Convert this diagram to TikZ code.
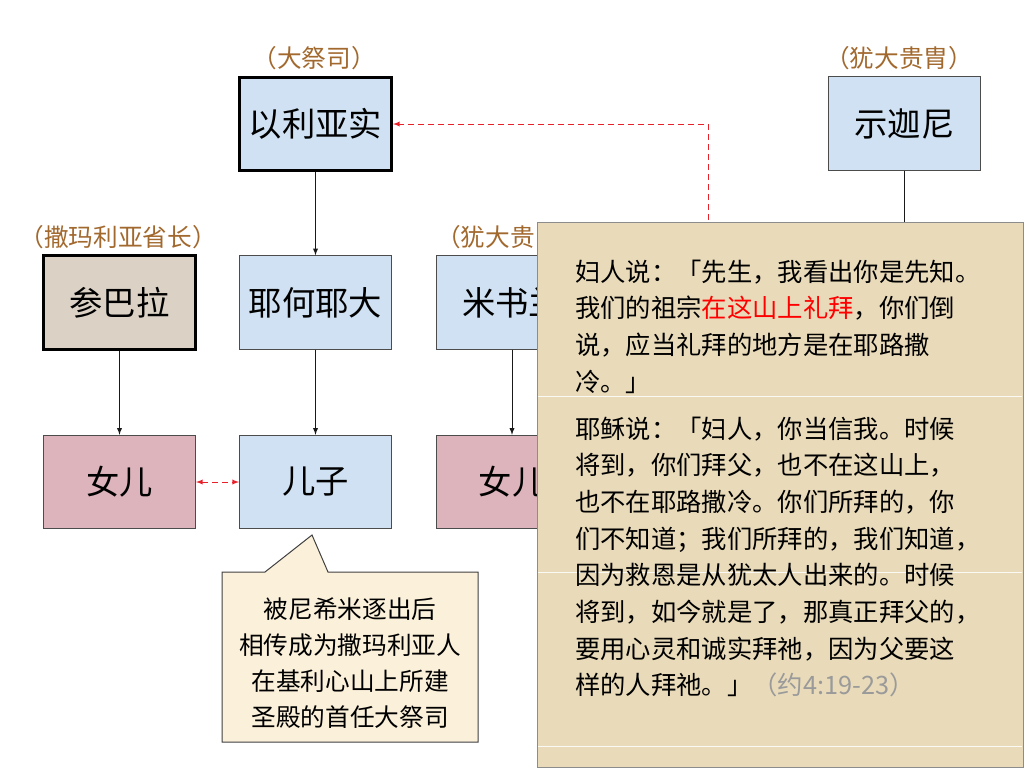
\documentclass[tikz,border=0pt]{standalone}
\usepackage{fontspec}
\setmainfont{Noto Sans CJK SC}
\usetikzlibrary{arrows}
\usepackage{xcolor}
\definecolor{boxblue}{HTML}{CFE1F2}
\definecolor{boxpink}{HTML}{DDB4BC}
\definecolor{boxsand}{HTML}{DBD2C5}
\definecolor{parch}{HTML}{E9DBBA}
\definecolor{cream}{HTML}{FBF0DA}
\definecolor{tagbrown}{HTML}{A2692F}
\definecolor{linkred}{HTML}{E8202A}
\definecolor{refgray}{HTML}{9A9A9A}

\begin{document}
\begin{tikzpicture}[x=0.75pt,y=-0.75pt,
  person/.style={draw=black!70,line width=0.75pt,minimum width=114pt,minimum height=70pt,inner sep=0pt,font=\fontsize{25}{30}\selectfont},
  leader/.style={person,draw=black,line width=2.25pt},
  tag/.style={text=tagbrown,inner sep=0pt,font=\fontsize{18.5}{22}\selectfont},
  link/.style={-latex,black!90,line width=0.75pt},
  reddash/.style={linkred,dash pattern=on 4.5pt off 3pt,line width=0.75pt},
  ptext/.style={anchor=base west,inner sep=0pt,font=\fontsize{19}{24}\selectfont},
  ntext/.style={anchor=base,inner sep=0pt,font=\fontsize{18.5}{24}\selectfont}]
\useasboundingbox (0,0) rectangle (1024,768);

\node[leader,fill=boxblue] (eliashib) at (315.5,124) {以利亚实};
\node[person,fill=boxblue] (shecaniah) at (904.5,123.5) {示迦尼};
\node[leader,fill=boxsand] (sanballat) at (119.5,302.5) {参巴拉};
\node[person,fill=boxblue] (jehoiada) at (315.5,302.5) {耶何耶大};
\node[person,fill=boxblue] (meshullam) at (512,302.5) {米书兰};
\node[person,fill=boxpink] (daughterA) at (119.5,482) {女儿};
\node[person,fill=boxblue] (son) at (315.5,482) {儿子};
\node[person,fill=boxpink] (daughterB) at (512,482) {女儿};

\node[tag] (tagpriest) at (314,58) {（大祭司）};
\node[tag] (taggov) at (118,237) {（撒玛利亚省长）};
\node[tag] (tagnobleA) at (510,237) {（犹大贵胄）};
\node[tag] (tagnobleB) at (899,58) {（犹大贵胄）};

\draw[link] (eliashib) -- (jehoiada);
\draw[link] (sanballat) -- (daughterA);
\draw[link] (jehoiada) -- (son);
\draw[link] (meshullam) -- (daughterB);
\draw[reddash,latex-latex] (daughterA) -- (son);

\coordinate (hidden) at (708,300);
\coordinate (shecdown) at (904.5,300);
\draw[reddash,-latex] (hidden) |- (eliashib);
\draw[black!90,line width=0.75pt] (shecaniah) -- (shecdown);

\draw[black!75,fill=cream,line width=0.75pt] (222,572) -- (265,572) -- (312,535) -- (328,572) -- (478,572) -- (478,742) -- (222,742) -- cycle;
\foreach \txt [count=\i] in {被尼希米逐出后,相传成为撒玛利亚人,在基利心山上所建,圣殿的首任大祭司}
  \node[ntext] (note\i) at (350,{618+36.3*(\i-1)}) {\txt};

\draw[black!45,fill=parch,line width=0.75pt] (537,222) rectangle (1023,767);
\foreach \yy in {396,572,746}
  \draw[white,opacity=0.85,line width=0.75pt] (538,\yy) -- (1022,\yy);

\foreach \txt [count=\i] in {妇人说：「先生，我看出你是先知。,{我们的祖宗\textcolor{red}{在这山上礼拜}，你们倒},说，应当礼拜的地方是在耶路撒,冷。」}
  \node[ptext] (woman\i) at (575,{281+36.7*(\i-1)}) {\txt};
\foreach \txt [count=\i] in {耶稣说：「妇人，你当信我。时候,将到，你们拜父，也不在这山上，,也不在耶路撒冷。你们所拜的，你,们不知道；我们所拜的，我们知道，,因为救恩是从犹太人出来的。时候,将到，如今就是了，那真正拜父的，,要用心灵和诚实拜祂，因为父要这,{样的人拜祂。」\textcolor{refgray}{（约4:19-23）}}}
  \node[ptext] (jesus\i) at (575,{438+36.7*(\i-1)}) {\txt};
\end{tikzpicture}
\end{document}
